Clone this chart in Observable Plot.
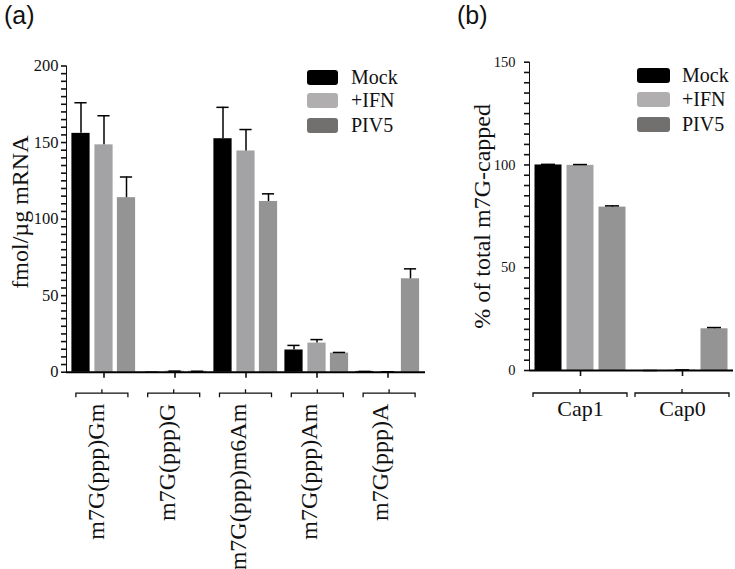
<!DOCTYPE html>
<html>
<head>
<meta charset="utf-8">
<script src="https://cdn.jsdelivr.net/npm/d3@7"></script>
<script src="https://cdn.jsdelivr.net/npm/@observablehq/plot@0.6"></script>
<style>
  html, body { margin: 0; padding: 0; background: #fff; }
  #root { position: relative; width: 735px; height: 569px; overflow: hidden; background: #fff; }
  .panel { position: absolute; top: 0; }
  #root svg text { font-family: "Liberation Serif", "Times New Roman", serif; }
  .plabel { position: absolute; font-family: "Liberation Sans", Arial, sans-serif; font-size: 25px; line-height: 1.15; color: #111; }
  .leg { position: absolute; font-family: "Liberation Serif", "Times New Roman", serif; font-size: 20px; color: #111; }
  .leg .row { position: absolute; left: 0; height: 15px; white-space: nowrap; }
  .leg .sw { position: absolute; left: 0; top: 0; width: 31px; height: 15px; border-radius: 3px; }
  .leg .tx { position: absolute; top: -4px; line-height: 22px; }
  g[aria-label^="y-axis"] path, g[aria-label^="y-axis"] line { stroke-width: 1.6px; }
  g[aria-label^="x-axis"] path, g[aria-label^="x-axis"] line { stroke-width: 1.6px; }
</style>
</head>
<body>
<div id="root"></div>
<script>
// ---------- Data ----------
const series = ["Mock", "+IFN", "PIV5"];
const barColors = ["#000000", "#a3a3a6", "#949494"];
const legendColors = ["#000000", "#b0aeae", "#72706f"];

// Panel (a)
const groupsA = ["m7G(ppp)Gm", "m7G(ppp)G", "m7G(ppp)m6Am", "m7G(ppp)Am", "m7G(ppp)A"];
const mockA    = [156, 0,   152.5, 14.5, 0.5];
const mockAErr = [20,  0,   20.5,  3,    0];
const ifnA     = [148.5, 0.7, 144.5, 19,  0.3];
const ifnAErr  = [19,  0,   14,    2.3,  0];
const piv5A    = [114, 0.6, 111.5, 12.5, 61];
const piv5AErr = [13.5, 0,  5,     0.4,  6.5];
const yTicksA = [0, 50, 100, 150, 200];
const yLabelA = "fmol/µg mRNA";

// Panel (b)
const groupsB = ["Cap1", "Cap0"];
const mockB    = [100, 0];
const mockBErr = [0.3, 0];
const ifnB     = [99.8, 0.2];
const ifnBErr  = [0.4, 0.1];
const piv5B    = [79.5, 20.3];
const piv5BErr = [0.6, 0.6];
const yTicksB = [0, 50, 100, 150];
const yLabelB = "% of total m7G-capped";

function rows(groups, vals, errs) {
  const out = [];
  groups.forEach((g, i) => {
    series.forEach((s, k) => out.push({group: g, series: s, k, value: vals[k][i], err: errs[k][i]}));
  });
  return out;
}
const dataA = rows(groupsA, [mockA, ifnA, piv5A], [mockAErr, ifnAErr, piv5AErr]);
const dataB = rows(groupsB, [mockB, ifnB, piv5B], [mockBErr, ifnBErr, piv5BErr]);

const root = document.getElementById("root");

function makePanel(cfg) {
  const {data, groups, yMax, yTicks, yLabel, width, height, margins, offsets, barW, capW,
         fontSize, tickPadding, tickSize, labelDx} = cfg;
  const step = (width - margins.left - margins.right) / groups.length;
  const barInset = (step - barW) / 2;
  const capInset = (step - capW) / 2;
  const marks = [];
  series.forEach((s, k) => {
    const d = data.filter(r => r.series === s);
    marks.push(Plot.barY(d, {x: "group", y: "value", fill: barColors[k], dx: offsets[k],
      insetLeft: barInset, insetRight: barInset}));
    marks.push(Plot.ruleX(d.filter(r => r.err > 0), {x: "group", y1: "value", y2: r => r.value + r.err,
      dx: offsets[k], stroke: "#000", strokeWidth: 1.5}));
    marks.push(Plot.tickY(d, {x: "group", y: r => r.value + r.err, dx: offsets[k],
      insetLeft: capInset, insetRight: capInset, stroke: "#000", strokeWidth: 1.5}));
  });
  marks.push(Plot.ruleY([0], {stroke: "#000", strokeWidth: 2}));
  marks.push(Plot.text([yLabel], {text: d => d, frameAnchor: "left", textAnchor: "middle", rotate: -90,
    dx: labelDx, dy: cfg.labelDy || 0, fontSize: 24, fill: "#111"}));
  marks.push(...cfg.extraMarks);
  const plot = Plot.plot({
    width, height,
    marginLeft: margins.left, marginRight: margins.right, marginTop: margins.top, marginBottom: margins.bottom,
    style: {fontFamily: "'Liberation Serif', 'Times New Roman', serif", fontSize: fontSize + "px", color: "#111", background: "transparent", overflow: "visible"},
    x: {type: "band", domain: groups, padding: 0, tickSize: 6, tickFormat: () => "", label: null},
    y: {domain: [0, yMax], ticks: d3.range(0, yMax + 1, 5), tickFormat: v => (yTicks.includes(v) ? String(v) : ""),
        tickSize, tickPadding, line: true, label: null},
    marks
  });
  return plot;
}

function drawBrackets(plot, groups, half, gap, tickLen) {
  const xs = plot.scale("x");
  const ys = plot.scale("y");
  const band = d3.scaleBand().domain(xs.domain).range(xs.range)
    .paddingInner(xs.paddingInner || 0).paddingOuter(xs.paddingOuter || 0);
  const y0 = ys.apply ? ys.apply(0) : d3.scaleLinear().domain(ys.domain).range(ys.range)(0);
  const svg = d3.select(plot.tagName.toLowerCase() === "svg" ? plot : plot.querySelector("svg"));
  const g = svg.append("g").attr("fill", "none").attr("stroke", "#111").attr("stroke-width", 1.3);
  const yb = y0 + gap;
  groups.forEach(grp => {
    const c = band(grp) + band.bandwidth() / 2;
    g.append("path").attr("d",
      `M${c - half},${yb + tickLen}V${yb}H${c + half}V${yb + tickLen}M${c},${yb}V${yb - tickLen}`);
  });
}

// Panel (a)
const plotA = makePanel({
  data: dataA, groups: groupsA, yMax: 200, yTicks: yTicksA, yLabel: yLabelA,
  width: 450, height: 569,
  margins: {left: 66, right: 25, top: 65.5, bottom: 197.3},
  offsets: [-23, 0, 22.5], barW: 19, capW: 13,
  fontSize: 16.5, tickPadding: 3, tickSize: 5, labelDx: -46, labelDy: -7,
  extraMarks: [
    Plot.text(groupsA, {x: d => d, text: d => d, frameAnchor: "bottom", dy: 31.5, rotate: -90,
      textAnchor: "end", fontSize: 24, fill: "#111"})
  ]
});
const wrapA = document.createElement("div");
wrapA.className = "panel"; wrapA.style.left = "0px";
wrapA.appendChild(plotA);
root.appendChild(wrapA);
drawBrackets(plotA, groupsA, 26, 21.5, 4);

// Panel (b)
const plotB = makePanel({
  data: dataB, groups: groupsB, yMax: 150, yTicks: yTicksB, yLabel: yLabelB,
  width: 295, height: 569,
  margins: {left: 89, right: 2, top: 61.7, bottom: 199},
  offsets: [-32, 0, 32], barW: 27, capW: 14,
  fontSize: 14.5, tickPadding: 9, tickSize: 5, labelDx: -47, labelDy: 0,
  extraMarks: [
    Plot.text(groupsB, {x: d => d, text: d => d, frameAnchor: "bottom", dy: 45, fontSize: 22, fill: "#111"})
  ]
});
const wrapB = document.createElement("div");
wrapB.className = "panel"; wrapB.style.left = "440px";
wrapB.appendChild(plotB);
root.appendChild(wrapB);
drawBrackets(plotB, groupsB, 47, 23, 4);

// Panel letters
[["(a)", 4], ["(b)", 457]].forEach(([t, x]) => {
  const d = document.createElement("div");
  d.className = "plabel"; d.textContent = t;
  d.style.left = x + "px"; d.style.top = "1px";
  root.appendChild(d);
});

// Legends
function legend(left, top, gaps, textLeft, swW) {
  const L = document.createElement("div");
  L.className = "leg"; L.style.left = left + "px"; L.style.top = top + "px";
  series.forEach((s, k) => {
    const r = document.createElement("div");
    r.className = "row"; r.style.top = gaps[k] + "px";
    const sw = document.createElement("div");
    sw.className = "sw"; sw.style.background = legendColors[k]; sw.style.width = swW + "px";
    const tx = document.createElement("div");
    tx.className = "tx"; tx.textContent = s; tx.style.left = textLeft + "px";
    r.appendChild(sw); r.appendChild(tx); L.appendChild(r);
  });
  root.appendChild(L);
}
legend(307, 70, [0, 23, 48], 44, 31);
legend(637, 68, [0, 24, 49], 45, 33);
</script>
</body>
</html>
